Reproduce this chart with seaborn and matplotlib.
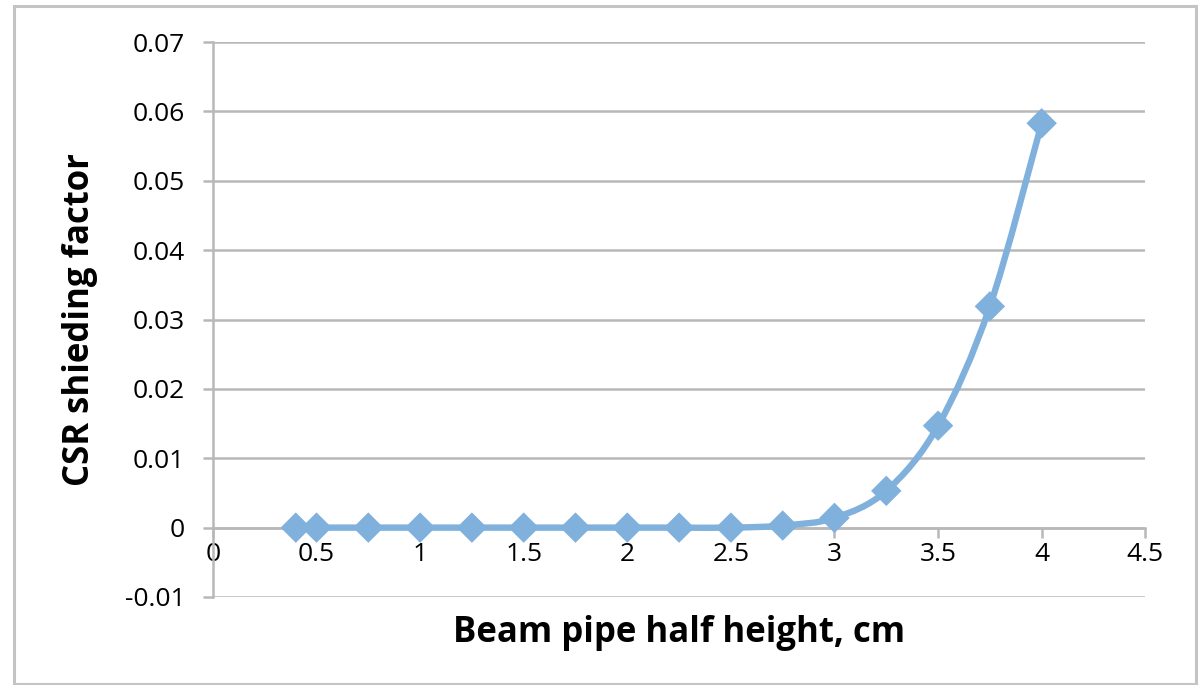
import numpy as np
import seaborn as sns
import matplotlib.pyplot as plt
from matplotlib.path import Path
from matplotlib.patches import PathPatch, Rectangle

# data
half_height = [0.4, 0.5, 0.75, 1.0, 1.25, 1.5, 1.75, 2.0, 2.25, 2.5, 2.75, 3.0, 3.25, 3.5, 3.75, 4.0]
shielding = [0.0, 0.0, 0.0, 0.0, 0.0, 0.0, 0.0, 0.0, 0.0, 0.0, 0.0003, 0.0014, 0.0053, 0.0147, 0.0319, 0.0583]
x_ticks = [0, 0.5, 1, 1.5, 2, 2.5, 3, 3.5, 4, 4.5]
y_ticks = [-0.01, 0, 0.01, 0.02, 0.03, 0.04, 0.05, 0.06, 0.07]

line_col = '#80b0dc'
grid_col = '#b8b8b8'

sns.set_style('white', {'text.color': 'black', 'xtick.color': 'black', 'ytick.color': 'black',
                        'axes.labelcolor': 'black'})
plt.rcParams['font.family'] = ['Open Sans', 'DejaVu Sans']

fig = plt.figure(figsize=(12.03, 6.85), dpi=100)
ax = fig.add_axes([0.177, 0.1285, 0.775, 0.81])

# outer chart border like Excel
fig.patches.append(Rectangle((14 / 1203, 1 - 684 / 685), 1182 / 1203, 678 / 685,
                             transform=fig.transFigure, fill=False,
                             edgecolor='#c4c4c4', linewidth=2.2))

# smoothed line (Excel style bezier through the points)
pts = np.column_stack([half_height, shielding])
verts = [tuple(pts[0])]
codes = [Path.MOVETO]
n = len(pts)
for i in range(n - 1):
    p0 = pts[max(i - 1, 0)]
    p1 = pts[i]
    p2 = pts[i + 1]
    p3 = pts[min(i + 2, n - 1)]
    c1 = p1 + (p2 - p0) / 6
    c2 = p2 - (p3 - p1) / 6
    verts += [tuple(c1), tuple(c2), tuple(p2)]
    codes += [Path.CURVE4] * 3
ax.add_patch(PathPatch(Path(verts, codes), fill=False, edgecolor=line_col,
                       linewidth=4.6, capstyle='round', joinstyle='round', zorder=3))

sns.scatterplot(x=half_height, y=shielding, marker='D', s=240, color=line_col,
                edgecolor='none', ax=ax, zorder=4, clip_on=False)

ax.set_xlim(0, 4.5)
ax.set_ylim(-0.01, 0.07)
ax.set_xticks(x_ticks)
ax.set_yticks(y_ticks)
ax.set_xticklabels([f'{v:g}' for v in x_ticks])
ax.set_yticklabels(['-0.01', '0', '0.01', '0.02', '0.03', '0.04', '0.05', '0.06', '0.07'])

ax.grid(axis='y', color=grid_col, linewidth=1.8)
ax.grid(axis='x', visible=False)
ax.set_axisbelow(True)

for s in ['top', 'right']:
    ax.spines[s].set_visible(False)
ax.spines['left'].set_color(grid_col)
ax.spines['left'].set_linewidth(1.8)
ax.spines['bottom'].set_color(grid_col)
ax.spines['bottom'].set_linewidth(1.8)
ax.spines['bottom'].set_position(('data', 0))

ax.tick_params(axis='y', direction='out', length=7, width=1.8, color=grid_col,
               labelsize=19, labelcolor='black', pad=13, left=True)
ax.tick_params(axis='x', direction='out', length=7, width=1.8, color=grid_col,
               labelsize=19, labelcolor='black', pad=3, bottom=True)

ax.set_xlabel('Beam pipe half height, cm', fontsize=25, fontweight='bold', labelpad=0)
ax.set_ylabel('CSR shieding factor', fontsize=25, fontweight='bold')
ax.xaxis.set_label_coords(0.5, -0.033)
ax.yaxis.set_label_coords(-0.123, 0.5)

fig.savefig('out.png', dpi=100)
